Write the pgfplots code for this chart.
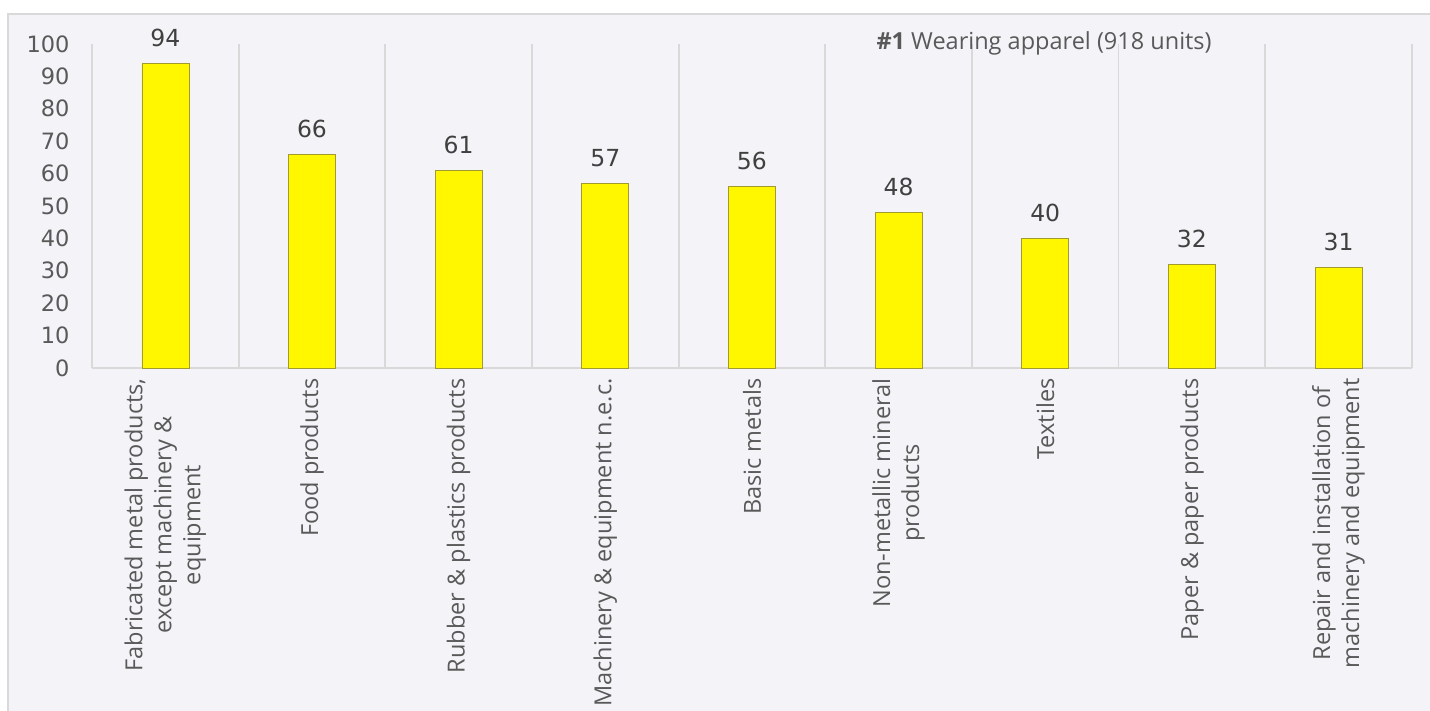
\documentclass[border=0pt]{standalone}
\usepackage{fontspec}
\setmainfont{Open Sans}
\newfontfamily\numfont{DejaVu Sans}
\usepackage{pgfplots}
\pgfplotsset{compat=1.18}
\definecolor{bg}{HTML}{F4F4F8}
\definecolor{frame}{HTML}{D9D9D9}
\definecolor{txt}{HTML}{595959}
\definecolor{lbl}{HTML}{404040}
\definecolor{baryel}{HTML}{FFF700}
\definecolor{baredge}{HTML}{A09A30}
\begin{document}
\begin{tikzpicture}[x=1pt,y=1pt]
\useasboundingbox (0,0) rectangle (1430,711);
\fill[white] (0,0) rectangle (1430,711);
\fill[bg] (8,0) rectangle (1430,697);
\draw[frame, line width=2pt] (8,0) -- (8,697) -- (1430,697);
\begin{axis}[
  at={(92pt,343pt)}, anchor=south west,
  scale only axis, width=1320pt, height=324pt,
  xmin=-0.5, xmax=8.5, ymin=0, ymax=100,
  axis x line*=bottom, axis y line*=left,
  y axis line style={draw=none},
  x axis line style={frame, line width=1.5pt},
  major tick length=0pt, minor tick length=0pt,
  xtick={0,...,8},
  minor xtick={-0.5,0.5,...,8.5},
  xminorgrids=true,
  minor x grid style={frame, line width=1.8pt},
  ytick={0,10,...,100},
  /pgf/number format/assume math mode=true,
  yticklabel style={font=\numfont\fontsize{22.5}{26}\selectfont, color=txt, xshift=-19pt},
  xticklabels={{Fabricated metal products,\\except machinery \&\\equipment},
    {Food products},{Rubber \& plastics products},{Machinery \& equipment n.e.c.},
    {Basic metals},{Non-metallic mineral\\products},{Textiles},{Paper \& paper products},
    {Repair and installation of\\machinery and equipment}},
  xticklabel style={rotate=90, anchor=east, align=center,
    font=\fontsize{23.5}{29}\selectfont, color=txt, xshift=-7pt},
  nodes near coords,
  nodes near coords style={font=\numfont\fontsize{23.5}{27}\selectfont, color=lbl, anchor=south, yshift=13pt},
  clip=false,
]
\addplot[ybar, bar width=47pt, draw=baredge, line width=0.6pt, fill=baryel]
  coordinates {(0,94) (1,66) (2,61) (3,57) (4,56) (5,48) (6,40) (7,32) (8,31)};
\end{axis}
\node[anchor=base west, font=\fontsize{23.5}{28}\selectfont, color=txt] at (873,661)
  {\textbf{\#1} Wearing apparel (918 units)};
\end{tikzpicture}
\end{document}
